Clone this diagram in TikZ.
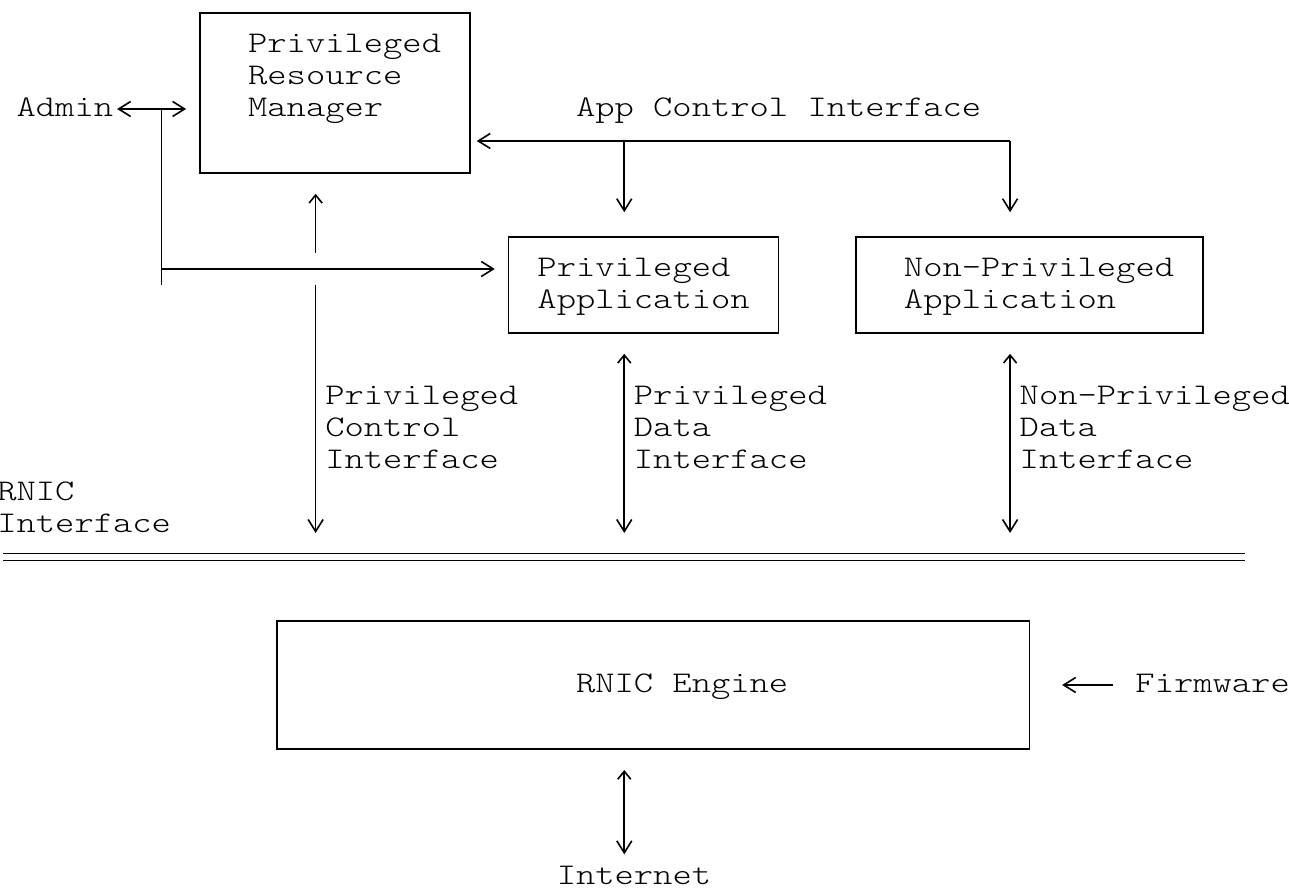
\documentclass[tikz,border=0pt]{standalone}
\usepackage{fontspec}
\newfontfamily\asciifont{lmmonolt10-regular.otf}[FakeStretch=1.225]
\usetikzlibrary{arrows.meta,calc}

\begin{document}
\begin{tikzpicture}[x=9.645pt, y=-16pt, line width=0.8pt]
	\tikzstyle{box} = [rectangle, draw, inner sep=0pt]
	\tikzstyle{txt} = [anchor=base west, inner sep=0pt, outer sep=0pt,
	font=\asciifont\fontsize{15}{16}\selectfont]
	\tikzstyle{line} = [draw, -{Straight Barb[length=6pt,width=7.5pt]}]
	\tikzstyle{twoway} = [draw, {Straight Barb[length=6pt,width=7.5pt]}-{Straight Barb[length=6pt,width=7.5pt]}]
	\tikzstyle{updown} = [draw, {Straight Barb[length=4pt,width=6.5pt]}-{Straight Barb[length=6pt,width=7.5pt]},
	shorten <=10pt, shorten >=12pt]
	\tikzstyle{up} = [draw, {Straight Barb[length=4pt,width=6.5pt]}-, shorten <=10pt]
	\useasboundingbox[fill=white] (-0.363,-0.406) rectangle (66.46,27.41);
	% Place nodes
	\node [box, minimum width=14*9.645pt, minimum height=5*16pt] (rm) at (17,2.5) {};
	\node [box, minimum width=14*9.645pt, minimum height=3*16pt] (pa) at (33,8.5) {};
	\node [box, minimum width=18*9.645pt, minimum height=3*16pt] (npa) at (53,8.5) {};
	\node [box, minimum width=39*9.645pt, minimum height=4*16pt] (eng) at (33.5,21) {};
	\foreach \word [count=\i] in {Privileged,Resource,Manager}
		\node [txt] (rmtext\i) at (12.5,0.24+\i) {\word};
	\foreach \word [count=\i] in {Privileged,Application}
		\node [txt] (patext\i) at (27.5,7.24+\i) {\word};
	\foreach \word [count=\i] in {Non-Privileged,Application}
		\node [txt] (npatext\i) at (46.5,7.24+\i) {\word};
	\foreach \word [count=\i] in {Privileged,Control,Interface}
		\node [txt] (ctltext\i) at (16.5,11.24+\i) {\word};
	\foreach \word [count=\i] in {Privileged,Data,Interface}
		\node [txt] (pdtext\i) at (32.5,11.24+\i) {\word};
	\foreach \word [count=\i] in {Non-Privileged,Data,Interface}
		\node [txt] (npdtext\i) at (52.5,11.24+\i) {\word};
	\node [txt] (admin) at (0.5,3.24) {Admin};
	\node [txt] (actext) at (29.5,3.24) {App Control Interface};
	\node [txt] (rnic1) at (-0.5,15.24) {RNIC};
	\node [txt] (rnic2) at (-0.5,16.24) {Interface};
	\node [txt] (engtext) at (29.5,21.24) {RNIC Engine};
	\node [txt] (fw) at (58.5,21.24) {Firmware};
	\node [txt] (net) at (28.5,27.24) {Internet};
	% Junctions and line ends
	\coordinate (adminjoin) at (8,3);
	\coordinate (admintap) at (8,8);
	\coordinate (acleft) at (32,4);
	\coordinate (acright) at (52,4);
	\coordinate (ifl) at (-0.2,17);
	\coordinate (ifr) at (64.2,17);
	\coordinate (ctl) at (16,17);
	\coordinate (pd) at (32,17);
	\coordinate (npd) at (52,17);
	\coordinate (netup) at (32,23);
	% Draw edges
	\path [twoway, shorten <=2pt, shorten >=6.5pt] (admin.east |- adminjoin) -- (adminjoin -| rm.west);
	\draw (adminjoin) -- ($(admintap)+(0,0.5)$);
	\path [line, shorten >=6.5pt] (admintap) -- (admintap -| pa.west);
	\path [line, shorten >=3pt] (acright) -- (acright -| rm.east);
	\path [line, shorten >=12pt] (acleft) -- (acleft |- pa.north);
	\path [line, shorten >=12pt] (acright) -- (acright |- npa.north);
	\path [up] (ctl |- rm.south) -- ($(ctl |- admintap)+(0,-0.5)$);
	\path [line, shorten >=12pt] ($(ctl |- admintap)+(0,0.5)$) -- (ctl);
	\path [updown] (pd |- pa.south) -- (pd);
	\path [updown] (npd |- npa.south) -- (npd);
	\draw [double, double distance=2.7pt, line width=0.7pt] (ifl) -- (ifr);
	\path [line, shorten <=11pt, shorten >=16pt] (eng.east -| fw.west) -- (eng.east);
	\path [updown, shorten <=10.5pt, shorten >=6pt] (netup) -- (netup |- net.north);
\end{tikzpicture}
\end{document}
